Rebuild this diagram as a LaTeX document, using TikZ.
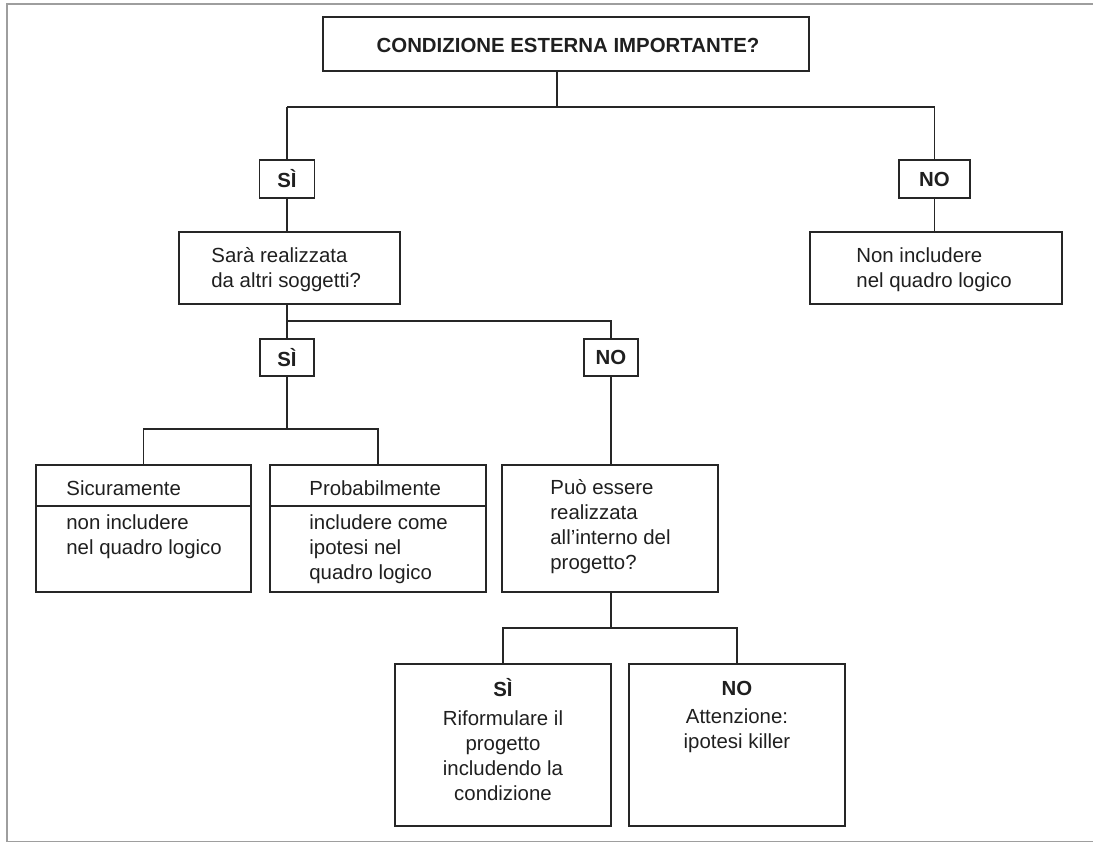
\documentclass[tikz,border=0pt]{standalone}
\usepackage{fontspec}
\setmainfont{Liberation Sans}
\begin{document}
\begin{tikzpicture}[x=0.5pt,y=-0.5pt,
  every node/.style={font=\fontsize{10.2}{12.5}\selectfont, text=black!88},
  box/.style={draw=black!85, line width=0.75pt, rectangle, inner sep=0pt, anchor=center},
  lbl/.style={font=\fontsize{10.2}{12.5}\selectfont\bfseries, inner sep=0pt},
  txtl/.style={anchor=west, align=left, inner sep=0pt},
  txtc/.style={anchor=center, align=center, inner sep=0pt},
  conn/.style={draw=black!85, line width=0.75pt},
  frame/.style={draw=black!38, line width=0.8pt}]
\useasboundingbox (0,0) rectangle (1093,843);
% outer frame
\draw[frame] (1100,4) -- (7,4) -- (7,841.5) -- (1100,841.5);

% boxes
\node[box, minimum width=243pt, minimum height=27pt] (title) at (566,44) {};
\node[lbl] (titletxt) at (568,45) {CONDIZIONE ESTERNA IMPORTANTE?};

\node[box, minimum width=27.5pt, minimum height=19pt] (si1) at (287,179) {};
\node[lbl] (si1t) at (si1) {SÌ};
\node[box, minimum width=35.5pt, minimum height=19pt] (no1) at (934.5,179) {};
\node[lbl] (no1t) at (no1) {NO};

\node[box, minimum width=110.5pt, minimum height=36pt] (sara) at (289.5,268) {};
\node[txtl] (sarat) at (211,269.5) {Sarà realizzata\\da altri soggetti?};
\node[box, minimum width=126pt, minimum height=36pt] (nonincl) at (936,268) {};
\node[txtl] (noninclt) at (856,269.5) {Non includere\\nel quadro logico};

\node[box, minimum width=27pt, minimum height=18.5pt] (si2) at (287,357.5) {};
\node[lbl] (si2t) at (si2) {SÌ};
\node[box, minimum width=27pt, minimum height=18.5pt] (no2) at (611,357.5) {};
\node[lbl] (no2t) at (no2) {NO};

\node[box, minimum width=107.5pt, minimum height=63.5pt] (sicur) at (143.5,528.5) {};
\draw[conn] (sicur.west |- 0,506) -- (sicur.east |- 0,506);
\node[txtl] (sicurh) at (66,488) {Sicuramente};
\node[txtl] (sicurt) at (66,537) {non includere\\nel quadro logico};

\node[box, minimum width=108pt, minimum height=63.5pt] (prob) at (378,528.5) {};
\draw[conn] (prob.west |- 0,506) -- (prob.east |- 0,506);
\node[txtl] (probh) at (309,488) {Probabilmente};
\node[txtl] (probt) at (309,549.5) {includere come\\ipotesi nel\\quadro logico};

\node[box, minimum width=108pt, minimum height=63.5pt] (puo) at (610,528.5) {};
\node[txtl] (puot) at (550,526.5) {Può essere\\realizzata\\all’interno del\\progetto?};

\node[box, minimum width=108pt, minimum height=81pt] (sib) at (503,745) {};
\node[lbl] (sibh) at (503,688) {SÌ};
\node[txtc] (sibt) at (503,755.5) {Riformulare il\\progetto\\includendo la\\condizione};

\node[box, minimum width=108pt, minimum height=81pt] (nob) at (737,745) {};
\node[lbl] (nobh) at (737,688) {NO};
\node[txtc] (nobt) at (737,731) {Attenzione:\\ipotesi killer};

% connectors
\coordinate (j1) at (557,107);
\coordinate (j1l) at (287,107);
\coordinate (j1r) at (934.5,107);
\draw[conn] (title.south -| j1) -- (j1);
\draw[conn] (j1l) -- (j1r);
\draw[conn] (j1l) -- (si1.north);
\draw[conn] (j1r) -- (no1.north);
\draw[conn] (si1.south) -- (si1.south |- sara.north);
\draw[conn] (no1.south) -- (no1.south |- nonincl.north);

\coordinate (j2) at (287,321);
\coordinate (j2r) at (611,321);
\draw[conn] (si2.north |- sara.south) -- (si2.north);
\draw[conn] (j2) -- (j2r) -- (no2.north);

\coordinate (j3) at (287,429);
\coordinate (j3l) at (143.5,429);
\coordinate (j3r) at (378,429);
\draw[conn] (si2.south) -- (j3);
\draw[conn] (sicur.north) -- (j3l) -- (j3r) -- (prob.north);
\draw[conn] (no2.south) -- (no2.south |- puo.north);

\coordinate (j4) at (611,628);
\coordinate (j4l) at (503,628);
\coordinate (j4r) at (737,628);
\draw[conn] (puo.south -| j4) -- (j4);
\draw[conn] (sib.north) -- (j4l) -- (j4r) -- (nob.north);
\end{tikzpicture}
\end{document}
